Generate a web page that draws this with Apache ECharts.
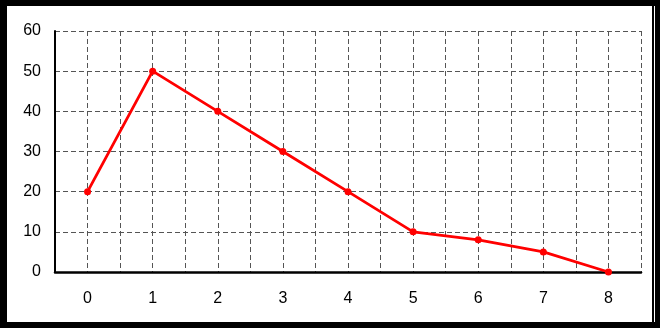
<!DOCTYPE html>
<html>
<head>
<meta charset="utf-8">
<script src="https://cdn.jsdelivr.net/npm/echarts@6/dist/echarts.min.js"></script>
<style>
  html, body { margin: 0; padding: 0; background: #000; }
  #frame { position: relative; width: 660px; height: 328px; background: #000; overflow: hidden; }
  #chart { position: absolute; left: 7px; top: 6px; width: 645px; height: 316px; background: #fff; }
  #edge { position: absolute; left: 654px; top: 6px; width: 1px; height: 316px; background: #fff; }
</style>
</head>
<body>
<div id="frame">
  <div id="chart"></div>
  <div id="edge"></div>
</div>
<script>
// x categories and the plotted series
const categories = ['0', '1', '2', '3', '4', '5', '6', '7', '8'];
const values = [20, 50, 40, 30, 20, 10, 8, 5, 0];
const yTicks = [0, 10, 20, 30, 40, 50, 60];

const points = categories.map((c, i) => [i, values[i]]);
const font = '"Liberation Sans", Arial, sans-serif';

const chart = echarts.init(document.getElementById('chart'), null, { renderer: 'canvas' });

const gridLine = {
  show: true,
  lineStyle: { color: '#555', width: 1, type: [5, 3] }
};

chart.setOption({
  animation: false,
  backgroundColor: '#fff',
  grid: { left: 48, top: 25, right: 11, bottom: 50 },
  xAxis: {
    type: 'value',
    min: -0.5,
    max: categories.length - 0.5,
    interval: 0.5,
    axisLine: { show: true, onZero: false, lineStyle: { color: '#000', width: 2.5 } },
    axisTick: { show: false },
    axisLabel: {
      margin: 19,
      color: '#000',
      fontFamily: font,
      fontSize: 16,
      showMinLabel: true,
      showMaxLabel: true,
      formatter: v => Number.isInteger(v) ? categories[v] : ''
    },
    splitLine: gridLine
  },
  yAxis: {
    type: 'value',
    min: yTicks[0],
    max: yTicks[yTicks.length - 1],
    interval: 10,
    axisLine: { show: true, onZero: false, lineStyle: { color: '#000', width: 2 } },
    axisTick: { show: false },
    axisLabel: { margin: 14, color: '#000', fontFamily: font, fontSize: 16, padding: [4, 0, 0, 0] },
    splitLine: gridLine
  },
  series: [{
    type: 'line',
    data: points,
    symbol: 'circle',
    symbolSize: 7,
    itemStyle: { color: '#ff0000' },
    lineStyle: { color: '#ff0000', width: 2.8 },
    z: 5
  }]
});
</script>
</body>
</html>
